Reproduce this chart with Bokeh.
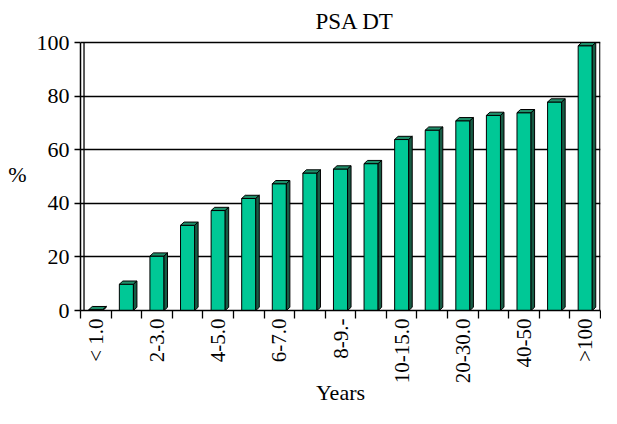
import numpy as np
from bokeh.plotting import figure
from bokeh.models import FixedTicker, Range1d
from bokeh.embed import file_html
from bokeh.resources import INLINE

# ---- data ----
title_text = "PSA DT"
x_title = "Years"
y_title = "%"
tick_labels = ["< 1.0", "", "2-3.0", "", "4-5.0", "", "6-7.0", "", "8-9.-", "",
               "10-15.0", "", "20-30.0", "", "40-50", "", ">100"]
values = [1.5, 11, 21.5, 33, 38.5, 43, 48.5, 52.5, 54, 56, 65, 68.5, 72, 74, 75, 79, 100]
y_ticks = [0, 20, 40, 60, 80, 100]

# ---- style ----
FONT = "Liberation Serif"
FRONT = "#00C896"
TOP = "#1F8F6A"
SIDE = "#175C45"
W = 0.46     # front face width (category units)
DX = 0.115   # 3-D depth, horizontal
DY = 1.2     # 3-D depth, vertical (value units)

n = len(values)
xs = np.arange(1, n + 1, dtype=float)
v = np.array(values, dtype=float)

p = figure(width=601, height=408, output_backend="svg", toolbar_location=None,
           x_range=Range1d(0.5, n + 0.5), y_range=Range1d(0, max(y_ticks) + 1.5),
           min_border_left=80, min_border_right=1, min_border_top=38, min_border_bottom=95)
p.outline_line_color = None
p.background_fill_color = "white"
p.border_fill_color = "white"

# front faces
p.vbar(x=xs, width=W, bottom=0, top=v - DY, fill_color=FRONT, line_color="black", line_width=1)
# top faces
top_xs = [[x - W / 2, x + W / 2, x + W / 2 + DX, x - W / 2 + DX] for x in xs]
top_ys = [[t - DY, t - DY, t, t] for t in v]
p.patches(top_xs, top_ys, fill_color=TOP, line_color="black", line_width=1)
# side faces
side_xs = [[x + W / 2, x + W / 2 + DX, x + W / 2 + DX, x + W / 2] for x in xs]
side_ys = [[0, DY, t, t - DY] for t in v]
p.patches(side_xs, side_ys, fill_color=SIDE, line_color="black", line_width=1)

# walls
p.segment(x0=[0.5 + DX, n + 0.5 - 0.02], y0=[0, 0], x1=[0.5 + DX, n + 0.5 - 0.02],
          y1=[max(y_ticks)] * 2, line_color="black", line_width=1.3)

# title
p.title.text = title_text
p.title.text_font = FONT
p.title.text_font_size = "23px"
p.title.text_font_style = "normal"
p.title.align = "left"
p.title.offset = 235
p.title.text_color = "black"

# x axis
major = [float(x) for x, l in zip(xs, tick_labels) if l]
p.xaxis.ticker = FixedTicker(ticks=major, minor_ticks=[x - 0.5 for x in xs] + [n + 0.5])
p.xaxis.major_label_overrides = {int(x): l for x, l in zip(xs, tick_labels) if l}
p.xaxis.major_label_orientation = np.pi / 2
p.xaxis.major_tick_line_color = None
p.xaxis.major_tick_out = 7
p.xaxis.major_tick_in = 0
p.xaxis.minor_tick_line_color = "black"
p.xaxis.minor_tick_line_width = 1.3
p.xaxis.minor_tick_out = 8
p.xaxis.minor_tick_in = 0
p.xaxis.major_label_standoff = 0
p.xaxis.axis_label = x_title
p.xaxis.axis_label_standoff = -6
p.xaxis.axis_line_width = 1.5

# y axis
p.yaxis.ticker = FixedTicker(ticks=y_ticks)
p.yaxis.bounds = (0, max(y_ticks))
p.yaxis.major_tick_out = 6
p.yaxis.major_tick_in = 0
p.yaxis.minor_tick_line_color = None
p.yaxis.major_tick_line_width = 1.3
p.yaxis.axis_line_width = 1.5
p.yaxis.major_label_standoff = 5
p.yaxis.axis_label = y_title
p.yaxis.axis_label_orientation = "horizontal"
p.yaxis.axis_label_standoff = 7

for ax in (p.xaxis, p.yaxis):
    ax.major_label_text_font = FONT
    ax.major_label_text_font_size = "22px"
    ax.major_label_text_color = "black"
    ax.axis_label_text_font = FONT
    ax.axis_label_text_font_size = "22px"
    ax.axis_label_text_font_style = "normal"
    ax.axis_label_text_color = "black"
    ax.axis_line_color = "black"
p.xaxis.major_label_text_font_size = "21px"

p.xgrid.grid_line_color = None
p.ygrid.ticker = FixedTicker(ticks=y_ticks)
p.ygrid.grid_line_color = "black"
p.ygrid.grid_line_width = 1.3

open("out.html", "w").write(file_html(p, INLINE))
